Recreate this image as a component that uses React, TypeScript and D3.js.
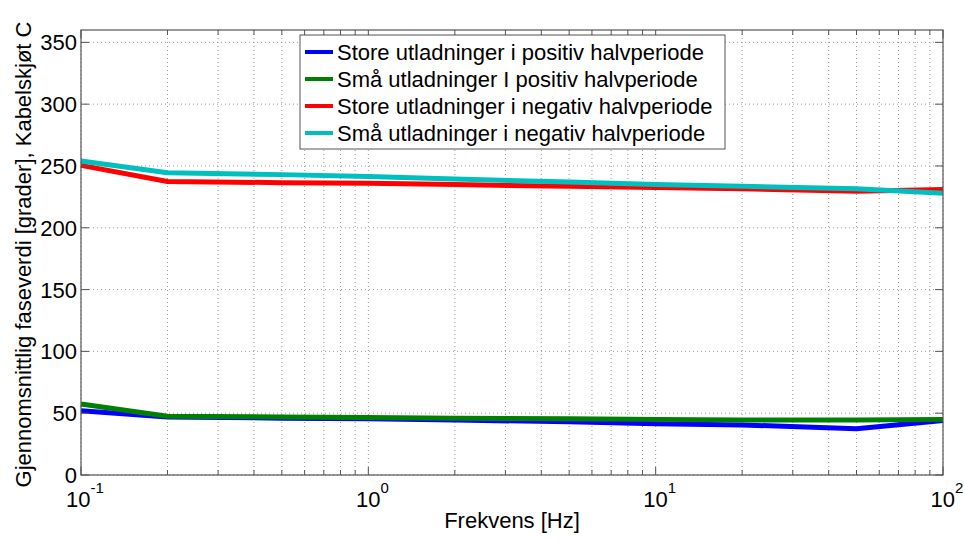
import React from 'react';
import * as d3 from 'd3';

// frequency points [Hz]
const freqs = [0.1, 0.2, 0.5, 1, 2, 5, 10, 20, 50, 100];

const storePos = [52, 47, 46, 45.5, 44.5, 43, 41.5, 40.5, 37.5, 44];
const smaPos = [57.5, 47.5, 47, 46.5, 46, 45.5, 45, 44.5, 44.5, 45];
const storeNeg = [250.5, 237.5, 236.5, 236, 235, 233.5, 232.5, 231.5, 229.5, 231];
const smaNeg = [254, 244.5, 243, 241.5, 239.5, 237, 235, 233.5, 231.5, 228];

const seriesNames = [
  'Store utladninger i positiv halvperiode',
  'Små utladninger I positiv halvperiode',
  'Store utladninger i negativ halvperiode',
  'Små utladninger i negativ halvperiode',
];
const seriesColors = ['#0000ff', '#008000', '#ff0000', '#00bfbf'];
const seriesValues = [storePos, smaPos, storeNeg, smaNeg];

const yTicks = [0, 50, 100, 150, 200, 250, 300, 350];
const xMajor = [0.1, 1, 10, 100];
const xExponents = ['-1', '0', '1', '2'];

const App: React.FC = () => {
  const width = 964;
  const height = 542;
  const margin = { top: 30, right: 21, bottom: 67, left: 81 };
  const innerW = width - margin.left - margin.right;
  const innerH = height - margin.top - margin.bottom;

  const x = d3.scaleLog().domain([0.1, 100]).range([0, innerW]);
  const y = d3.scaleLinear().domain([0, 360]).range([innerH, 0]);

  const xMinor: number[] = [];
  [0.1, 1, 10].forEach(d => {
    for (let k = 2; k <= 9; k++) xMinor.push(d * k);
  });

  const line = d3.line<number>()
    .x((_, i) => x(freqs[i]))
    .y(d => y(d));

  const font = 'Arial, "Liberation Sans", Helvetica, sans-serif';
  const axisCol = '#555';
  const gridCol = '#9a9a9a';

  return (
    <svg width={width} height={height} style={{ position: 'absolute', left: 0, top: 0, background: '#fff' }}
      fontFamily={font}>
      <rect width={width} height={height} fill="#fff" />
      <g transform={`translate(${margin.left},${margin.top})`}>
        {/* grid */}
        {yTicks.map(t => (
          <line key={'gy' + t} x1={0} x2={innerW} y1={y(t)} y2={y(t)}
            stroke={gridCol} strokeWidth={1} strokeDasharray="1 3" />
        ))}
        {[...xMajor, ...xMinor].map(t => (
          <line key={'gx' + t} x1={x(t)} x2={x(t)} y1={0} y2={innerH}
            stroke={gridCol} strokeWidth={1} strokeDasharray="1 3" />
        ))}

        {/* series */}
        {seriesValues.map((vals, i) => (
          <path key={'s' + i} d={line(vals) || ''} fill="none" stroke={seriesColors[i]}
            strokeWidth={5} strokeLinejoin="round" />
        ))}

        {/* box */}
        <rect x={0} y={0} width={innerW} height={innerH} fill="none" stroke={axisCol} strokeWidth={1.2} />

        {/* y ticks */}
        {yTicks.map(t => (
          <g key={'yt' + t}>
            <line x1={0} x2={8} y1={y(t)} y2={y(t)} stroke={axisCol} />
            <line x1={innerW} x2={innerW - 8} y1={y(t)} y2={y(t)} stroke={axisCol} />
            <text x={-4} y={y(t)} dy="0.36em" textAnchor="end" fontSize={22} fill="#000">{t}</text>
          </g>
        ))}

        {/* x ticks */}
        {xMajor.map((t, i) => (
          <g key={'xt' + t}>
            <line x1={x(t)} x2={x(t)} y1={innerH} y2={innerH - 8} stroke={axisCol} />
            <line x1={x(t)} x2={x(t)} y1={0} y2={8} stroke={axisCol} />
            <text x={x(t) + 4} y={innerH + 32} textAnchor="middle" fontSize={22} fill="#000">
              10<tspan fontSize={15} dy={-14}>{xExponents[i]}</tspan>
            </text>
          </g>
        ))}
        {xMinor.map(t => (
          <g key={'xm' + t}>
            <line x1={x(t)} x2={x(t)} y1={innerH} y2={innerH - 5} stroke={axisCol} />
            <line x1={x(t)} x2={x(t)} y1={0} y2={5} stroke={axisCol} />
          </g>
        ))}

        {/* axis labels */}
        <text x={innerW / 2} y={innerH + 53} textAnchor="middle" fontSize={22} fill="#000">Frekvens [Hz]</text>
        <text transform={`translate(${-50},${innerH / 2 + 2}) rotate(-90)`} textAnchor="middle" fontSize={22} fill="#000">
          Gjennomsnittlig faseverdi [grader], Kabelskjøt C
        </text>

        {/* legend */}
        <g transform={`translate(${300 - margin.left},${35 - margin.top})`}>
          <rect x={0} y={0} width={425} height={114} fill="#fff" stroke={axisCol} strokeWidth={1} />
          {seriesNames.map((n, i) => (
            <g key={'lg' + i} transform={`translate(0,${17 + i * 27})`}>
              <line x1={5} x2={33} y1={0} y2={0} stroke={seriesColors[i]} strokeWidth={4} />
              <text x={37} y={0} dy="0.35em" fontSize={22} fill="#000">{n}</text>
            </g>
          ))}
        </g>
      </g>
    </svg>
  );
};

export default App;
